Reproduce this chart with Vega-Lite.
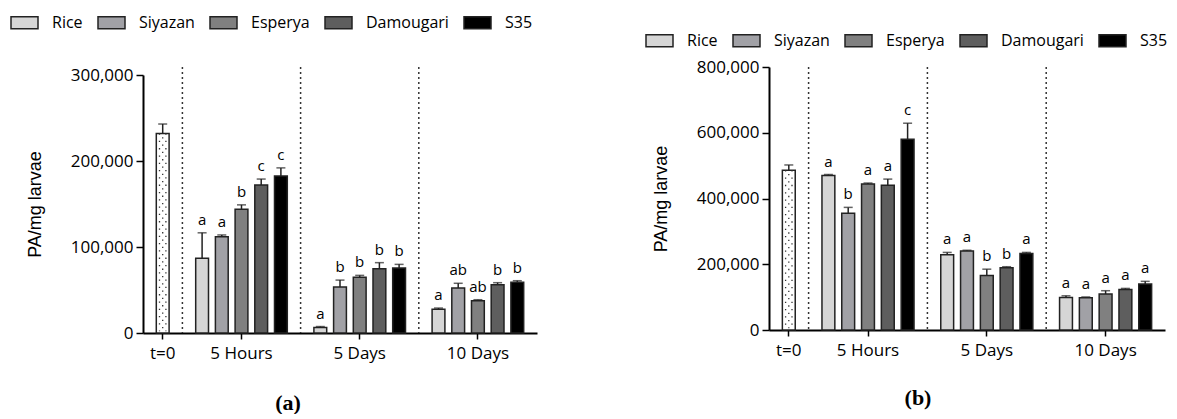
{
  "$schema": "https://vega.github.io/schema/vega-lite/v6.json",
  "background": "white",
  "padding": {"left": 10, "top": 8, "right": 0, "bottom": 0},
  "config": {
    "view": {"stroke": null},
    "axis": {"grid": false, "domainColor": "#000", "domainWidth": 2, "tickColor": "#000", "tickWidth": 1.5,
             "labelFont": "Open Sans", "labelFontSize": 17, "labelColor": "#000",
             "titleFont": "Liberation Sans", "titleFontSize": 18, "titleFontWeight": "normal", "titleColor": "#000"},
    "legend": {"orient": "none", "direction": "horizontal", "title": null,
               "symbolType": "M-1,-0.44H1V0.44H-1Z", "symbolSize": 729, "symbolStrokeColor": "#222", "symbolStrokeWidth": 1.5,
               "labelFont": "Open Sans", "labelFontSize": 16, "labelColor": "#000", "labelOffset": 13, "columnPadding": 12},
    "title": {"font": "Liberation Serif", "fontSize": 22, "fontWeight": "bold", "color": "#000"}
  },
  "datasets": {
    "panelA": [
      {"time": "t=0", "cultivar": "t=0", "mean": 232000, "upper": 243000, "letter": ""},
      {"time": "5 Hours", "cultivar": "Rice", "mean": 87000, "upper": 116500, "letter": "a"},
      {"time": "5 Hours", "cultivar": "Siyazan", "mean": 112000, "upper": 114000, "letter": "a"},
      {"time": "5 Hours", "cultivar": "Esperya", "mean": 144000, "upper": 149000, "letter": "b"},
      {"time": "5 Hours", "cultivar": "Damougari", "mean": 172000, "upper": 179000, "letter": "c"},
      {"time": "5 Hours", "cultivar": "S35", "mean": 182500, "upper": 192000, "letter": "c"},
      {"time": "5 Days", "cultivar": "Rice", "mean": 6500, "upper": 7500, "letter": "a"},
      {"time": "5 Days", "cultivar": "Siyazan", "mean": 53500, "upper": 61500, "letter": "b"},
      {"time": "5 Days", "cultivar": "Esperya", "mean": 64700, "upper": 67000, "letter": "b"},
      {"time": "5 Days", "cultivar": "Damougari", "mean": 74800, "upper": 81800, "letter": "b"},
      {"time": "5 Days", "cultivar": "S35", "mean": 75600, "upper": 79800, "letter": "b"},
      {"time": "10 Days", "cultivar": "Rice", "mean": 27500, "upper": 29000, "letter": "a"},
      {"time": "10 Days", "cultivar": "Siyazan", "mean": 52300, "upper": 57800, "letter": "ab"},
      {"time": "10 Days", "cultivar": "Esperya", "mean": 37600, "upper": 38700, "letter": "ab"},
      {"time": "10 Days", "cultivar": "Damougari", "mean": 56200, "upper": 58500, "letter": "b"},
      {"time": "10 Days", "cultivar": "S35", "mean": 59000, "upper": 60800, "letter": "b"}
    ],
    "panelB": [
      {"time": "t=0", "cultivar": "t=0", "mean": 486000, "upper": 502000, "letter": ""},
      {"time": "5 Hours", "cultivar": "Rice", "mean": 470000, "upper": 473000, "letter": "a"},
      {"time": "5 Hours", "cultivar": "Siyazan", "mean": 355000, "upper": 373000, "letter": "b"},
      {"time": "5 Hours", "cultivar": "Esperya", "mean": 444000, "upper": 447000, "letter": "a"},
      {"time": "5 Hours", "cultivar": "Damougari", "mean": 440000, "upper": 459000, "letter": "a"},
      {"time": "5 Hours", "cultivar": "S35", "mean": 580000, "upper": 629000, "letter": "c"},
      {"time": "5 Days", "cultivar": "Rice", "mean": 229000, "upper": 236000, "letter": "a"},
      {"time": "5 Days", "cultivar": "Siyazan", "mean": 240000, "upper": 242500, "letter": "a"},
      {"time": "5 Days", "cultivar": "Esperya", "mean": 166000, "upper": 185000, "letter": "b"},
      {"time": "5 Days", "cultivar": "Damougari", "mean": 189500, "upper": 192500, "letter": "b"},
      {"time": "5 Days", "cultivar": "S35", "mean": 233000, "upper": 236000, "letter": "a"},
      {"time": "10 Days", "cultivar": "Rice", "mean": 99000, "upper": 104000, "letter": "a"},
      {"time": "10 Days", "cultivar": "Siyazan", "mean": 98000, "upper": 100500, "letter": "a"},
      {"time": "10 Days", "cultivar": "Esperya", "mean": 109500, "upper": 119500, "letter": "a"},
      {"time": "10 Days", "cultivar": "Damougari", "mean": 123500, "upper": 126500, "letter": "a"},
      {"time": "10 Days", "cultivar": "S35", "mean": 140000, "upper": 148000, "letter": "a"}
    ],
    "dividers": [{"key": "sep1"}, {"key": "sep2"}, {"key": "sep3"}]
  },
  "spacing": 108,
  "resolve": {"scale": {"x": "independent", "y": "independent", "fill": "independent"}, "legend": {"fill": "independent"}},
  "hconcat": [
    {
      "width": 394,
      "height": 266,
      "title": {"text": "(a)", "orient": "bottom", "frame": "group", "anchor": "middle", "dx": -52, "offset": 32},
      "data": {"name": "panelA"},
      "transform": [{"calculate": "datum.time + '|' + datum.cultivar", "as": "key"}],
      "encoding": {
        "x": {
          "field": "key", "type": "nominal",
          "scale": {"domain": ["t=0|t=0", "sep1", "5 Hours|Rice", "5 Hours|Siyazan", "5 Hours|Esperya", "5 Hours|Damougari", "5 Hours|S35", "sep2", "5 Days|Rice", "5 Days|Siyazan", "5 Days|Esperya", "5 Days|Damougari", "5 Days|S35", "sep3", "10 Days|Rice", "10 Days|Siyazan", "10 Days|Esperya", "10 Days|Damougari", "10 Days|S35"], "paddingInner": 0.35, "paddingOuter": 0.675},
          "axis": {"title": null, "values": ["t=0|t=0", "5 Hours|Esperya", "5 Days|Esperya", "10 Days|Esperya"], "labelExpr": "split(datum.value, '|')[0]", "labelAngle": 0, "tickSize": 6, "labelPadding": 6}
        }
      },
      "layer": [
        {
          "data": {"name": "dividers"},
          "mark": {"type": "rule", "strokeDash": [2, 3], "strokeWidth": 1.5, "color": "#333"},
          "encoding": {}
        },
        {
          "transform": [{"filter": "datum.time != 't=0'"}],
          "mark": {"type": "bar", "stroke": "#222", "strokeWidth": 1.5},
          "encoding": {
            "y": {"field": "mean", "type": "quantitative", "scale": {"domain": [0, 300000], "nice": false, "range": [266, 8]},
                  "axis": {"title": "PA/mg larvae", "values": [0, 100000, 200000, 300000], "format": ",d", "tickSize": 7, "labelPadding": 3, "titlePadding": 26}},
            "fill": {"field": "cultivar", "type": "nominal",
                     "scale": {"domain": ["Rice", "Siyazan", "Esperya", "Damougari", "S35"], "range": ["#d6d6d6", "#a1a1a6", "#808080", "#5e5e5e", "#000000"]},
                     "legend": {"legendX": -133, "legendY": -59}}
          }
        },
        {
          "transform": [{"filter": "datum.time == 't=0'"}],
          "mark": {"type": "bar", "fill": "white", "stroke": "#222", "strokeWidth": 1.5},
          "encoding": {"y": {"field": "mean", "type": "quantitative", "scale": {"domain": [0, 300000], "nice": false, "range": [266, 8]},
                  "axis": {"title": "PA/mg larvae", "values": [0, 100000, 200000, 300000], "format": ",d", "tickSize": 7, "labelPadding": 3, "titlePadding": 26}}}
        },
        {
          "transform": [{"filter": "datum.time == 't=0'"}],
          "mark": {"type": "rule", "xOffset": -3.2, "strokeDash": [1.3, 6], "strokeWidth": 1.3, "color": "#333"},
          "encoding": {"y": {"field": "mean", "type": "quantitative", "scale": {"domain": [0, 300000], "nice": false, "range": [266, 8]},
                  "axis": {"title": "PA/mg larvae", "values": [0, 100000, 200000, 300000], "format": ",d", "tickSize": 7, "labelPadding": 3, "titlePadding": 26}}, "y2": {"datum": 2000}}
        },
        {
          "transform": [{"filter": "datum.time == 't=0'"}],
          "mark": {"type": "rule", "xOffset": 3.2, "strokeDash": [1.3, 6], "strokeWidth": 1.3, "color": "#333"},
          "encoding": {"y": {"field": "mean", "type": "quantitative", "scale": {"domain": [0, 300000], "nice": false, "range": [266, 8]},
                  "axis": {"title": "PA/mg larvae", "values": [0, 100000, 200000, 300000], "format": ",d", "tickSize": 7, "labelPadding": 3, "titlePadding": 26}}, "y2": {"datum": 2000}}
        },
        {
          "transform": [{"filter": "datum.time == 't=0'"}],
          "mark": {"type": "rule", "strokeDash": [1.3, 6], "strokeDashOffset": 3.6, "strokeWidth": 1.3, "color": "#333"},
          "encoding": {"y": {"field": "mean", "type": "quantitative", "scale": {"domain": [0, 300000], "nice": false, "range": [266, 8]},
                  "axis": {"title": "PA/mg larvae", "values": [0, 100000, 200000, 300000], "format": ",d", "tickSize": 7, "labelPadding": 3, "titlePadding": 26}}, "y2": {"datum": 2000}}
        },
        {
          "mark": {"type": "rule", "strokeWidth": 1.5, "color": "#222"},
          "encoding": {"y": {"field": "mean", "type": "quantitative", "scale": {"domain": [0, 300000], "nice": false, "range": [266, 8]},
                  "axis": {"title": "PA/mg larvae", "values": [0, 100000, 200000, 300000], "format": ",d", "tickSize": 7, "labelPadding": 3, "titlePadding": 26}}, "y2": {"field": "upper"}}
        },
        {
          "mark": {"type": "tick", "size": 9, "thickness": 1.5, "color": "#222"},
          "encoding": {"y": {"field": "upper", "type": "quantitative", "scale": {"domain": [0, 300000], "nice": false, "range": [266, 8]},
                  "axis": {"title": "PA/mg larvae", "values": [0, 100000, 200000, 300000], "format": ",d", "tickSize": 7, "labelPadding": 3, "titlePadding": 26}}}
        },
        {
          "mark": {"type": "text", "baseline": "bottom", "dy": -5, "font": "Open Sans", "fontSize": 15, "color": "#000"},
          "encoding": {"y": {"field": "upper", "type": "quantitative", "scale": {"domain": [0, 300000], "nice": false, "range": [266, 8]},
                  "axis": {"title": "PA/mg larvae", "values": [0, 100000, 200000, 300000], "format": ",d", "tickSize": 7, "labelPadding": 3, "titlePadding": 26}}, "text": {"field": "letter"}}
        }
      ]
    },
    {
      "width": 396,
      "height": 263,
      "title": {"text": "(b)", "orient": "bottom", "frame": "group", "anchor": "middle", "dx": -49, "offset": 30},
      "data": {"name": "panelB"},
      "transform": [{"calculate": "datum.time + '|' + datum.cultivar", "as": "key"}],
      "encoding": {
        "x": {
          "field": "key", "type": "nominal",
          "scale": {"domain": ["t=0|t=0", "sep1", "5 Hours|Rice", "5 Hours|Siyazan", "5 Hours|Esperya", "5 Hours|Damougari", "5 Hours|S35", "sep2", "5 Days|Rice", "5 Days|Siyazan", "5 Days|Esperya", "5 Days|Damougari", "5 Days|S35", "sep3", "10 Days|Rice", "10 Days|Siyazan", "10 Days|Esperya", "10 Days|Damougari", "10 Days|S35"], "paddingInner": 0.35, "paddingOuter": 0.675},
          "axis": {"title": null, "values": ["t=0|t=0", "5 Hours|Esperya", "5 Days|Esperya", "10 Days|Esperya"], "labelExpr": "split(datum.value, '|')[0]", "labelAngle": 0, "tickSize": 6, "labelPadding": 6}
        }
      },
      "layer": [
        {
          "data": {"name": "dividers"},
          "mark": {"type": "rule", "strokeDash": [2, 3], "strokeWidth": 1.5, "color": "#333"},
          "encoding": {}
        },
        {
          "transform": [{"filter": "datum.time != 't=0'"}],
          "mark": {"type": "bar", "stroke": "#222", "strokeWidth": 1.5},
          "encoding": {
            "y": {"field": "mean", "type": "quantitative", "scale": {"domain": [0, 800000], "nice": false},
                  "axis": {"title": "PA/mg larvae", "values": [0, 200000, 400000, 600000, 800000], "format": ",d", "tickSize": 7, "labelPadding": 3, "titlePadding": 26}},
            "fill": {"field": "cultivar", "type": "nominal",
                     "scale": {"domain": ["Rice", "Siyazan", "Esperya", "Damougari", "S35"], "range": ["#d6d6d6", "#a1a1a6", "#808080", "#5e5e5e", "#000000"]},
                     "legend": {"legendX": -124, "legendY": -41}}
          }
        },
        {
          "transform": [{"filter": "datum.time == 't=0'"}],
          "mark": {"type": "bar", "fill": "white", "stroke": "#222", "strokeWidth": 1.5},
          "encoding": {"y": {"field": "mean", "type": "quantitative", "scale": {"domain": [0, 800000], "nice": false},
                  "axis": {"title": "PA/mg larvae", "values": [0, 200000, 400000, 600000, 800000], "format": ",d", "tickSize": 7, "labelPadding": 3, "titlePadding": 26}}}
        },
        {
          "transform": [{"filter": "datum.time == 't=0'"}],
          "mark": {"type": "rule", "xOffset": -3.2, "strokeDash": [1.3, 6], "strokeWidth": 1.3, "color": "#333"},
          "encoding": {"y": {"field": "mean", "type": "quantitative", "scale": {"domain": [0, 800000], "nice": false},
                  "axis": {"title": "PA/mg larvae", "values": [0, 200000, 400000, 600000, 800000], "format": ",d", "tickSize": 7, "labelPadding": 3, "titlePadding": 26}}, "y2": {"datum": 5000}}
        },
        {
          "transform": [{"filter": "datum.time == 't=0'"}],
          "mark": {"type": "rule", "xOffset": 3.2, "strokeDash": [1.3, 6], "strokeWidth": 1.3, "color": "#333"},
          "encoding": {"y": {"field": "mean", "type": "quantitative", "scale": {"domain": [0, 800000], "nice": false},
                  "axis": {"title": "PA/mg larvae", "values": [0, 200000, 400000, 600000, 800000], "format": ",d", "tickSize": 7, "labelPadding": 3, "titlePadding": 26}}, "y2": {"datum": 5000}}
        },
        {
          "transform": [{"filter": "datum.time == 't=0'"}],
          "mark": {"type": "rule", "strokeDash": [1.3, 6], "strokeDashOffset": 3.6, "strokeWidth": 1.3, "color": "#333"},
          "encoding": {"y": {"field": "mean", "type": "quantitative", "scale": {"domain": [0, 800000], "nice": false},
                  "axis": {"title": "PA/mg larvae", "values": [0, 200000, 400000, 600000, 800000], "format": ",d", "tickSize": 7, "labelPadding": 3, "titlePadding": 26}}, "y2": {"datum": 5000}}
        },
        {
          "mark": {"type": "rule", "strokeWidth": 1.5, "color": "#222"},
          "encoding": {"y": {"field": "mean", "type": "quantitative", "scale": {"domain": [0, 800000], "nice": false},
                  "axis": {"title": "PA/mg larvae", "values": [0, 200000, 400000, 600000, 800000], "format": ",d", "tickSize": 7, "labelPadding": 3, "titlePadding": 26}}, "y2": {"field": "upper"}}
        },
        {
          "mark": {"type": "tick", "size": 9, "thickness": 1.5, "color": "#222"},
          "encoding": {"y": {"field": "upper", "type": "quantitative", "scale": {"domain": [0, 800000], "nice": false},
                  "axis": {"title": "PA/mg larvae", "values": [0, 200000, 400000, 600000, 800000], "format": ",d", "tickSize": 7, "labelPadding": 3, "titlePadding": 26}}}
        },
        {
          "mark": {"type": "text", "baseline": "bottom", "dy": -5, "font": "Open Sans", "fontSize": 15, "color": "#000"},
          "encoding": {"y": {"field": "upper", "type": "quantitative", "scale": {"domain": [0, 800000], "nice": false},
                  "axis": {"title": "PA/mg larvae", "values": [0, 200000, 400000, 600000, 800000], "format": ",d", "tickSize": 7, "labelPadding": 3, "titlePadding": 26}}, "text": {"field": "letter"}}
        }
      ]
    }
  ]
}
